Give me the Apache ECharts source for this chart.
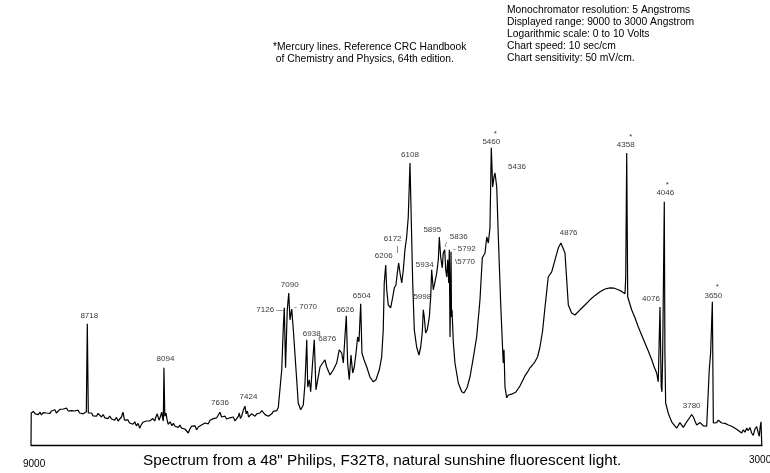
<!DOCTYPE html>
<html>
<head>
<meta charset="utf-8">
<script src="https://cdn.jsdelivr.net/npm/echarts@6/dist/echarts.min.js"></script>
<style>
html,body{margin:0;padding:0;background:#fff;}
#chart{width:770px;height:473px;}
</style>
</head>
<body>
<div id="chart"></div>
<script>
// Trace samples: [wavelength (Angstrom), output on 0-10 V log scale]
const redBaseline = [
[9184,0.00],[9182,0.80],[9165,0.84],[9150,0.78],[9141,0.83],[9125,0.76],[9110,0.82],[9100,0.75],[9085,0.81],[9072,0.86],
[9060,0.80],[9045,0.85],[9030,0.79],[9019,0.85],[9004,0.82],[8990,0.88],[8978,0.80],[8965,0.83],[8950,0.89],[8935,0.84],
[8922,0.90],[8910,0.86],[8895,0.92],[8882,0.85],[8870,0.90],[8855,0.86],[8842,0.91],[8829,0.85],[8815,0.82],[8802,0.87],
[8789,0.80],[8775,0.84],[8760,0.78],[8748,0.80],[8735,0.83],[8727,3.03],[8719,0.80],[8705,0.76],[8692,0.80],[8681,0.73],
[8668,0.78],[8652,0.72],[8640,0.79],[8626,0.74],[8612,0.70],[8598,0.76],[8585,0.68],[8573,0.72],[8560,0.66],[8545,0.72],
[8530,0.65],[8518,0.68],[8505,0.62],[8490,0.69],[8477,0.60],[8464,0.64],[8450,0.70],[8437,0.82],[8425,0.62],[8410,0.57],
[8398,0.63],[8384,0.55],[8370,0.60],[8356,0.52],[8342,0.58],[8329,0.48],[8315,0.54],[8302,0.42],[8290,0.50],[8275,0.57],
[8261,0.52],[8248,0.60],[8235,0.55],[8221,0.60],[8208,0.56],[8194,0.66],[8180,0.60],[8170,0.70],[8159,0.78],[8145,0.62],
[8135,0.70],[8123,0.82],[8115,0.66],[8110,0.60],[8105,1.93],[8098,0.72],[8088,0.80],[8078,0.60],[8070,0.52],[8055,0.58],
[8040,0.48],[8028,0.54],[8015,0.47],[8001,0.52],[7988,0.44],[7975,0.50],[7962,0.42],[7948,0.47],[7935,0.40],[7922,0.45],
[7907,0.30],[7895,0.40],[7880,0.47],[7867,0.42],[7853,0.48],[7840,0.38],[7826,0.45],[7812,0.40],[7800,0.50],[7786,0.46],
[7772,0.55],[7758,0.58],[7745,0.53],[7731,0.62],[7717,0.60],[7704,0.66],[7690,0.62],[7677,0.68],[7663,0.65],[7650,0.82],
[7637,0.70],[7623,0.66],[7610,0.72],[7596,0.65],[7582,0.70],[7569,0.68],[7555,0.64],[7542,0.70],[7528,0.60],[7515,0.66],
[7500,0.72],[7493,0.80],[7484,0.66],[7474,0.72],[7460,0.88],[7447,0.97],[7438,0.78],[7428,0.85],[7418,0.70],[7407,0.68],
[7394,0.78],[7380,0.82],[7366,0.72],[7352,0.78],[7339,0.74],[7325,0.80],[7311,0.86],[7298,0.82],[7284,0.76],[7270,0.80],
[7257,0.72],[7244,0.76],[7230,0.78],[7217,0.84],[7204,0.80],[7190,0.86],[7177,0.93]
];
const neonRegion = [
[7163,0.88],[7149,1.88],[7136,2.95],[7128,3.43],[7118,1.93],[7104,3.38],[7092,3.80],[7082,3.13],[7068,3.40],[7055,2.88],
[7033,1.88],[7015,1.05],[6995,0.88],[6974,1.00],[6960,1.55],[6946,2.63],[6938,1.45],[6925,1.63],[6914,1.33],[6901,1.95],
[6885,2.63],[6871,1.38],[6857,1.63],[6838,1.95],[6817,2.05],[6798,2.13],[6784,1.95],[6757,1.75],[6730,1.88],[6703,2.05],
[6682,2.38],[6662,2.30],[6649,2.05],[6636,2.70],[6625,3.23],[6614,2.05],[6601,1.63],[6587,2.25],[6573,1.80],[6560,1.95],
[6546,2.30],[6533,2.70],[6522,2.58],[6508,3.53],[6498,2.30],[6481,2.13],[6459,1.95],[6433,1.70],[6406,1.58],[6384,1.63],
[6357,1.88],[6338,2.20],[6325,2.88],[6317,4.05],[6305,4.50],[6297,3.88],[6284,3.50],[6265,3.43],[6248,3.70],[6235,3.93],
[6222,4.00],[6211,4.30],[6200,4.55],[6189,4.30],[6175,4.05],[6162,4.38],[6149,4.88],[6135,5.20],[6122,5.70],[6108,7.05],
[6097,5.55],[6086,4.05],[6073,2.88],[6054,2.45],[6035,2.25],[6021,2.45],[6008,2.83],[6000,3.38],[5992,3.20],[5981,2.80],
[5968,2.88],[5951,3.20],[5940,3.70],[5932,4.38],[5919,3.88],[5905,4.08],[5891,4.30],[5878,4.63],[5870,5.20],[5859,4.70],
[5846,4.43],[5838,4.80],[5826,4.88],[5818,4.38],[5810,4.20],[5802,4.63],[5794,4.05],[5789,4.88],[5783,2.70],[5775,4.83],
[5771,3.20],[5767,3.38],[5756,2.55],[5743,2.05],[5716,1.55],[5688,1.33],[5670,1.30],[5645,1.43],[5621,1.70],[5597,2.13],
[5567,2.70],[5540,3.63],[5521,4.68],[5499,4.80],[5485,5.20],[5472,5.05],[5459,5.43],[5448,7.43],[5437,6.45],[5426,6.70],
[5418,6.80],[5404,6.45],[5391,5.20],[5372,3.55],[5356,2.38],[5351,2.05],[5345,2.38],[5337,1.45],[5323,1.18],[5310,1.25],
[5296,1.20],[5283,1.27],[5270,1.25]
];
const blueRegion = [
[5250,1.32],[5232,1.40],[5215,1.48],[5195,1.60],[5175,1.73],[5155,1.82],[5134,1.93],[5114,2.00],[5094,2.08],[5073,2.20],
[5053,2.45],[5032,2.85],[5012,3.45],[4986,4.20],[4958,4.33],[4931,4.63],[4904,4.93],[4883,5.05],[4869,5.10],[4850,4.80],
[4836,4.13],[4823,3.50],[4796,3.30],[4769,3.25],[4728,3.38],[4688,3.50],[4647,3.63],[4606,3.74],[4566,3.83],[4525,3.90],
[4485,3.93],[4450,3.92],[4417,3.88],[4390,3.84],[4363,3.78],[4357,4.20],[4349,7.30],[4341,3.70],[4309,3.38],[4282,3.18],
[4255,2.95],[4228,2.75],[4201,2.55],[4174,2.35],[4146,2.13],[4126,1.95],[4106,1.80],[4093,1.58],[4079,3.45],[4069,1.45],
[4063,1.33],[4057,2.30],[4044,6.08],[4039,2.30],[4033,1.05]
];
const uvBaseline = [
[4012,0.80],[3998,0.68],[3984,0.58],[3970,0.52],[3957,0.50],[3944,0.42],[3930,0.46],[3917,0.56],[3903,0.52],[3890,0.44],
[3876,0.47],[3862,0.58],[3849,0.63],[3835,0.70],[3822,0.76],[3808,0.70],[3795,0.60],[3781,0.50],[3768,0.47],[3754,0.56],
[3741,0.52],[3727,0.48],[3714,0.52],[3700,0.47],[3692,0.50],[3679,1.88],[3668,2.30],[3654,3.58],[3646,0.55],[3632,0.60],
[3619,0.56],[3605,0.62],[3592,0.57],[3578,0.55],[3565,0.60],[3551,0.54],[3538,0.58],[3524,0.50],[3511,0.55],[3497,0.47],
[3484,0.50],[3470,0.42],[3457,0.46],[3443,0.36],[3430,0.40],[3416,0.30],[3403,0.38],[3389,0.32],[3376,0.42],[3362,0.36],
[3349,0.44],[3335,0.30],[3322,0.24],[3308,0.40],[3294,0.46],[3281,0.30],[3273,0.22],[3266,0.45],[3259,0.58],[3253,0.00]
];
// Peak annotations: printed label and the wavelength of the trace sample it marks
const peakNames = ['8718','8094','7636','7424','7126','7090','7070','6938','6876','6626','6504','6206','6172','6108',
  '5998','5934','5895','5836','5792','5770','5460','5436','4876','4358','4076','4046','3780','3650'];
const peakAt = [8727,8105,7650,7447,7128,7092,7068,6946,6885,6625,6508,6305,6200,6108,
  6000,5932,5870,5826,5789,5775,5448,5418,4869,4349,4079,4044,3822,3654];
const mercuryLines = ['5460','4358','4046','3650'];
const axisEndLabels = ['9000','3000'];
const noteLeft = ['*Mercury lines. Reference CRC Handbook', ' of Chemistry and Physics, 64th edition.'];
const noteRight = ['Monochromator resolution: 5 Angstroms','Displayed range: 9000 to 3000 Angstrom',
  'Logarithmic scale: 0 to 10 Volts','Chart speed: 10 sec/cm','Chart sensitivity: 50 mV/cm.'];
const caption = 'Spectrum from a 48" Philips, F32T8, natural sunshine fluorescent light.';

// ---- layout / style (not data) ----
const FONT = '"Liberation Sans", Arial, sans-serif';
const labelOffset = {
  '8718':[2,-8],'8094':[1.5,-9],'7636':[0,-9],'7424':[3.5,-9],'7126':[-14,2],'7090':[1,-8],'7070':[14,-2],
  '6938':[5,-6],'6876':[13,-1],'6626':[-1,-6],'6504':[1,-8],'6206':[-2,-9],'6172':[-6,-24],'6108':[0,-8],
  '5998':[-1,-13],'5934':[-7,-5],'5895':[-7,-7],'5836':[14,-13],'5792':[15,-1],'5770':[14,10],
  '5460':[0,-6],'5436':[22,-6],'4876':[6,-8],'4358':[-1,-8],'4076':[-9,-8],'4046':[1,-9],'3780':[0,-9],'3650':[1,-6]
};
const labelText = {'7126':'7126 \u2014','7070':'- 7070','5792':'- 5792','5770':'\\5770'};
const starOffset = {'5460':[4,-14],'4358':[4,-16],'4046':[3,-17],'3650':[5,-15]};
const glyphs = [ {at:'6172', text:'|', offset:[-1,-14], size:8}, {at:'5836', text:'/', offset:[1,-5], size:7} ];

const trace = redBaseline.concat(neonRegion, blueRegion, uvBaseline);
function valueAt(w){ const p = trace.find(d => d[0] === w); return p ? p[1] : 0; }
function anchor(name){ const w = peakAt[peakNames.indexOf(name)]; return [w, valueAt(w)]; }

const chart = echarts.init(document.getElementById('chart'), null, {renderer:'canvas'});

const labelData = peakNames.map(n => ({
  value: anchor(n),
  label: { formatter: labelText[n] || n, offset: labelOffset[n] }
}));
const starData = mercuryLines.map(n => ({ value: anchor(n), label:{ formatter:'*', offset: starOffset[n] } }));
const glyphData = glyphs.map(g => ({ value: anchor(g.at), label:{ formatter:g.text, offset:g.offset, fontSize:g.size } }));

const graphics = [];
noteLeft.forEach((t,i)=>graphics.push({type:'text', left:273, top:42+i*12, style:{text:t, font:'10.3px '+FONT, fill:'#000'}}));
noteRight.forEach((t,i)=>graphics.push({type:'text', left:507, top:5+i*12, style:{text:t, font:'10.3px '+FONT, fill:'#000'}}));
graphics.push({type:'text', left:23, top:459, style:{text:axisEndLabels[0], font:'10px '+FONT, fill:'#000'}});
graphics.push({type:'text', left:749, top:455, style:{text:axisEndLabels[1], font:'10px '+FONT, fill:'#000'}});
graphics.push({type:'text', left:143, top:453, style:{text:caption, font:'15.3px '+FONT, fill:'#000'}});

chart.setOption({
  animation:false,
  backgroundColor:'#fff',
  grid:{left:31, right:8, top:45, bottom:28},
  xAxis:{type:'value', inverse:true, min:3251, max:9184,
    axisLine:{show:true, onZero:false, lineStyle:{color:'#000', width:1.3}},
    axisTick:{show:false}, axisLabel:{show:false}, splitLine:{show:false}},
  yAxis:{type:'value', min:0, max:10, show:false, splitLine:{show:false}},
  graphic: graphics,
  series:[
    {type:'line', data:trace, showSymbol:false, symbol:'none', sampling:null,
     lineStyle:{color:'#000', width:1.2}, z:2},
    {type:'scatter', data:labelData, symbolSize:0, z:3,
     label:{show:true, position:'inside', color:'#000', fontSize:8, fontFamily:FONT}},
    {type:'scatter', data:starData, symbolSize:0, z:3,
     label:{show:true, position:'inside', color:'#000', fontSize:8, fontFamily:FONT}},
    {type:'scatter', data:glyphData, symbolSize:0, z:3,
     label:{show:true, position:'inside', color:'#000', fontFamily:FONT}}
  ]
});
</script>
</body>
</html>
